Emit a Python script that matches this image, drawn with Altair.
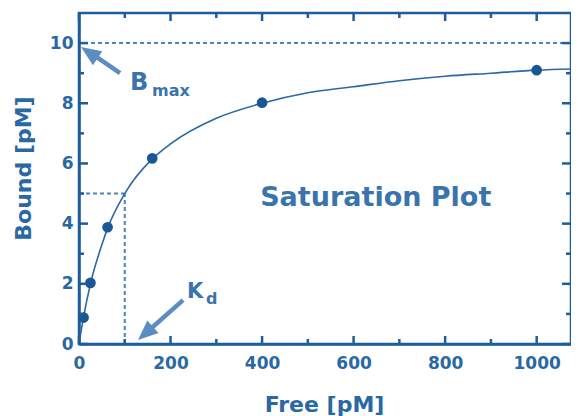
import altair as alt
import pandas as pd

# measured data points
free = [10, 25, 62.5, 160, 400, 1000]
bound = [0.88, 2.03, 3.88, 6.17, 8.02, 9.1]

# fitted curve
curve_free = [0, 10, 25, 50, 62.5, 100, 160, 200, 300, 400, 500, 600, 700, 800, 900, 1000, 1100]
curve_bound = [0, 0.9, 2.0, 3.3, 3.85, 5.0, 6.15, 6.65, 7.5, 8.0, 8.35, 8.55, 8.75, 8.9, 9.0, 9.1, 9.15]

x_major = [0, 200, 400, 600, 800, 1000]
x_minor = [100, 300, 500, 700, 900]
y_major = [0, 2, 4, 6, 8, 10]
y_minor = [1, 3, 5, 7, 9]
x_domain = [0, 1075]
y_domain = [0, 11]

bmax = [10]
kd = [100]
half = [5]

# annotation arrows (data units)
arrow_tail_x = [89.7, 227.4]
arrow_tail_y = [9.0, 1.46]
arrow_shaft_x = [28.4, 148.7]
arrow_shaft_y = [9.64, 0.4]
arrow_tip_x = [4.4, 129]
arrow_tip_y = [9.87, 0.13]
arrow_angle = [304, 228]

label_text = ["B", "max", "K", "d", "Saturation Plot"]
label_x = [111.5, 159.6, 236.2, 277.7, 395.8]
label_y = [8.44, 8.24, 1.53, 1.33, 4.59]
label_size = [24, 16, 21, 16, 27]

W, H = 492, 331
DARK = "#1d5d9b"
TXT = "#2a68a3"
ANN = "#3a74ad"
DASH = "#4d84bb"
ARROW = "#5b8dc2"
FONT = "DejaVu Sans"

xs = alt.Scale(domain=x_domain, nice=False, zero=False)
ys = alt.Scale(domain=y_domain, nice=False, zero=False)

AX = alt.Axis(values=x_major, format="d", title="Free [pM]", titleX=W / 2 - 1, titleY=67,
              titleBaseline="alphabetic", labelPadding=11, ticks=False, tickSize=0,
              grid=False, domainColor=DARK, domainWidth=2.5, labelFlush=False,
              labelFont=FONT, labelFontWeight="bold", labelFontSize=17, labelColor=TXT,
              titleFont=FONT, titleFontWeight="bold", titleFontSize=22, titleColor=TXT)
AY = alt.Axis(values=y_major, format="d", title="Bound [pM]", titleX=-56, titleY=155,
              titleAngle=270, titleBaseline="middle", labelPadding=6, ticks=False, tickSize=0,
              grid=False, domainColor=DARK, domainWidth=2.5, labelFlush=False,
              labelFont=FONT, labelFontWeight="bold", labelFontSize=17, labelColor=TXT,
              titleFont=FONT, titleFontWeight="bold", titleFontSize=22, titleColor=TXT)


def X(f):
    return alt.X(f, type="quantitative", scale=xs, axis=AX)


def Y(f):
    return alt.Y(f, type="quantitative", scale=ys, axis=AY)


pts = pd.DataFrame({"x": free, "y": bound})
crv = pd.DataFrame({"x": curve_free, "y": curve_bound})

points = alt.Chart(pts).mark_circle(size=115, color="#1b5893", opacity=1).encode(
    x=X("x"), y=Y("y"))

curve = alt.Chart(crv).mark_line(color="#2b68a4", strokeWidth=1.6, interpolate="monotone").encode(
    x=X("x"), y=Y("y"))

bmax_line = alt.Chart(pd.DataFrame({"y": bmax})).mark_rule(
    color=DASH, strokeWidth=2, strokeDash=[4, 3]).encode(y=Y("y"))

kd_df = pd.DataFrame({"x0": [0], "x": kd, "y0": [0], "y": half})
kd_h = alt.Chart(kd_df).mark_rule(color=DASH, strokeWidth=2, strokeDash=[4, 3]).encode(
    x=X("x0"), x2="x:Q", y=Y("y"))
kd_v = alt.Chart(kd_df).mark_rule(color=DASH, strokeWidth=2, strokeDash=[4, 3]).encode(
    x=X("x"), y=Y("y0"), y2="y:Q")


def yticks(vals, x0, x1):
    return alt.Chart(pd.DataFrame({"y": vals})).mark_rule(color=DARK, strokeWidth=2.5).encode(
        y=Y("y"), x=alt.value(x0), x2=alt.value(x1))


def xticks(vals, y0, y1):
    return alt.Chart(pd.DataFrame({"x": vals})).mark_rule(color=DARK, strokeWidth=2.5).encode(
        x=X("x"), y=alt.value(y0), y2=alt.value(y1))


ticks = [
    yticks(y_major, 0, 9), yticks(y_minor, 0, 5),
    yticks(y_major, W, W - 9), yticks(y_minor, W, W - 5),
    xticks(x_major, H, H - 8), xticks(x_minor, H, H - 5),
    xticks(x_major, 0, 8), xticks(x_minor, 0, 5),
]

arr = pd.DataFrame({"tx": arrow_tail_x, "ty": arrow_tail_y, "sx": arrow_shaft_x,
                    "sy": arrow_shaft_y, "px": arrow_tip_x, "py": arrow_tip_y, "a": arrow_angle})
shafts = alt.Chart(arr).mark_rule(color=ARROW, strokeWidth=4.5).encode(
    x=X("tx"), y=Y("ty"), x2="sx:Q", y2="sy:Q")
heads = alt.Chart(arr).mark_point(shape="M0,0 L0.42,1 L-0.42,1 Z", filled=True, size=1600,
                                  color=ARROW, opacity=1, strokeWidth=0).encode(
    x=X("px"), y=Y("py"), angle=alt.Angle("a:Q", scale=None))

lab = pd.DataFrame({"t": label_text, "x": label_x, "y": label_y, "s": label_size})
labels = alt.Chart(lab).mark_text(align="left", baseline="alphabetic", font=FONT,
                                  fontWeight="bold", color=ANN).encode(
    x=X("x"), y=Y("y"), text="t:N", size=alt.Size("s:Q", scale=None))

chart = alt.layer(bmax_line, kd_h, kd_v, curve, points, *ticks, shafts, heads, labels).properties(
    width=W, height=H,
    autosize=alt.AutoSizeParams(type="none"),
    padding={"left": 71, "top": 5, "right": 0, "bottom": 72},
    background="white",
).configure_view(stroke=DARK, strokeWidth=2.5)

chart.save("out.html", embed_options={"renderer": "svg", "actions": False})
